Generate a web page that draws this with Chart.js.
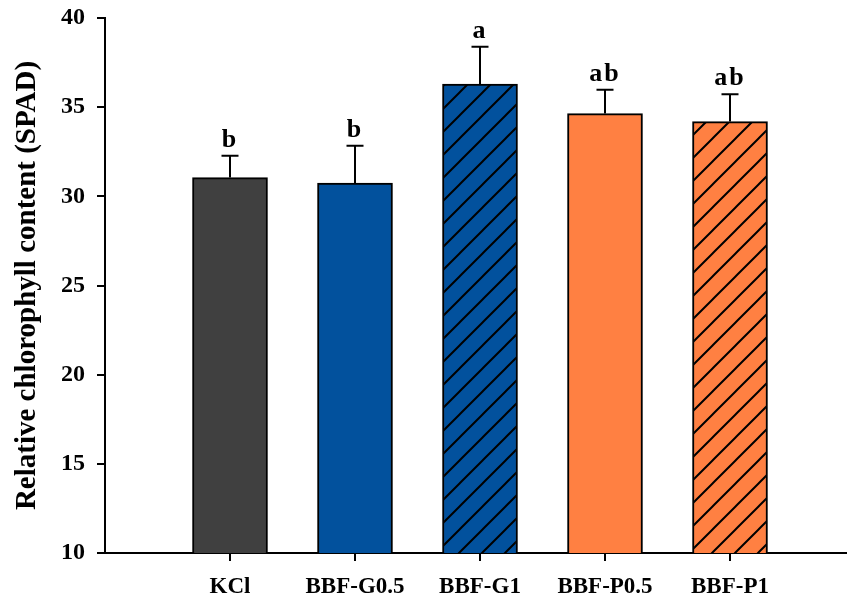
<!DOCTYPE html>
<html>
<head>
<meta charset="utf-8">
<script src="https://cdn.jsdelivr.net/npm/chart.js@4"></script>
<style>
  html, body { margin: 0; padding: 0; background: #ffffff; }
  #wrap { width: 847px; height: 601px; }
</style>
</head>
<body>
<div id="wrap"><canvas id="chart" width="847" height="601"></canvas></div>
<script>
// Treatments and SPAD readings (mean, SD) with significance letters
const categories = ['KCl', 'BBF-G0.5', 'BBF-G1', 'BBF-P0.5', 'BBF-P1'];
const means = [31.05, 30.74, 36.30, 34.64, 34.19];
const sds = [1.22, 2.09, 2.09, 1.33, 1.54];
const letters = ['b', 'b', 'a', 'ab', 'ab'];
const yTicks = [10, 15, 20, 25, 30, 35, 40];

const FONT = '"Liberation Serif", "Times New Roman", serif';
const GRAY = '#404040';
const BLUE = '#02519d';
const ORANGE = '#ff8042';

// Solid fill crossed by black "/" hatching
function hatch(color) {
  const s = 23;
  const c = document.createElement('canvas');
  c.width = s; c.height = s;
  const g = c.getContext('2d');
  g.fillStyle = color;
  g.fillRect(0, 0, s, s);
  g.strokeStyle = '#000';
  g.lineWidth = 2;
  g.beginPath();
  for (const k of [0, 1, 2]) {
    g.moveTo(k * s - s - 1, s + 1);
    g.lineTo(k * s + 1, -1);
  }
  g.stroke();
  return g.createPattern(c, 'repeat');
}

const fills = [GRAY, BLUE, hatch(BLUE), ORANGE, hatch(ORANGE)];

// Upward error bars and letter labels above each bar
const errorBars = {
  id: 'errorBars',
  afterDatasetsDraw(chart) {
    const ctx = chart.ctx;
    const y = chart.scales.y;
    const meta = chart.getDatasetMeta(0);
    ctx.save();
    ctx.strokeStyle = '#000';
    ctx.lineWidth = 2;
    meta.data.forEach((bar, i) => {
      const top = y.getPixelForValue(means[i] + sds[i]);
      ctx.beginPath();
      ctx.moveTo(bar.x, bar.y);
      ctx.lineTo(bar.x, top);
      ctx.moveTo(bar.x - 8.5, top);
      ctx.lineTo(bar.x + 8.5, top);
      ctx.stroke();
      ctx.fillStyle = '#000';
      ctx.font = 'bold 26px ' + FONT;
      ctx.textAlign = 'center';
      ctx.textBaseline = 'alphabetic';
      if ('letterSpacing' in ctx) ctx.letterSpacing = '2px';
      ctx.fillText(letters[i], bar.x, top - 9);
    });
    ctx.restore();
  }
};

new Chart(document.getElementById('chart'), {
  type: 'bar',
  data: {
    datasets: [{
      data: categories.map((c, i) => ({ x: i + 1, y: means[i] })),
      backgroundColor: fills,
      borderColor: '#000',
      borderWidth: 2,
      borderSkipped: false,
      barThickness: 75
    }]
  },
  options: {
    responsive: false,
    animation: false,
    layout: { padding: { top: 18, right: 0, left: 0, bottom: 0 } },
    plugins: { legend: { display: false }, tooltip: { enabled: false } },
    scales: {
      x: {
        type: 'linear',
        min: 0,
        max: 5.936,
        offset: false,
        afterBuildTicks(scale) { scale.ticks = categories.map((c, i) => ({ value: i + 1 })); },
        afterFit(scale) { scale.height = 48; scale.paddingLeft = 0; scale.paddingRight = 0; },
        ticks: {
          callback: (v) => categories[v - 1],
          color: '#000',
          font: { family: FONT, size: 23, weight: 'bold' },
          padding: 12,
          maxRotation: 0,
          autoSkip: false
        },
        grid: { offset: false, drawOnChartArea: false, drawTicks: true, tickLength: 8, color: '#000', lineWidth: 2 },
        border: { display: true, color: '#000', width: 2 }
      },
      y: {
        min: 10,
        max: 40,
        afterBuildTicks(scale) { scale.ticks = yTicks.map(v => ({ value: v })); },
        afterFit(scale) { scale.width = 105; scale.paddingTop = 0; scale.paddingBottom = 0; },
        ticks: {
          color: '#000',
          font: { family: FONT, size: 24, weight: 'bold' },
          padding: 12
        },
        grid: { drawOnChartArea: false, drawTicks: true, tickLength: 8, color: '#000', lineWidth: 2 },
        border: { display: true, color: '#000', width: 2 },
        title: {
          display: true,
          text: 'Relative chlorophyll content (SPAD)',
          color: '#000',
          font: { family: FONT, size: 29, weight: 'bold' },
          padding: { top: 10, bottom: 0 }
        }
      }
    }
  },
  plugins: [errorBars]
});
</script>
</body>
</html>
